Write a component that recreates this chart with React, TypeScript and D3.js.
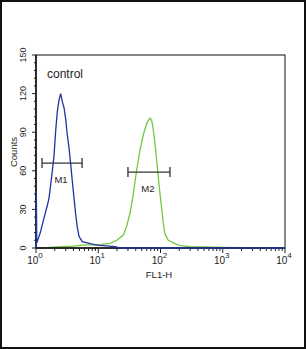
import React, { useEffect, useRef } from 'react';
import * as d3 from 'd3';

// FL1-H channel values and counts
const blueFL = [1.01, 1.012, 1.03, 1.05, 1.19, 1.34, 1.52, 1.62, 1.72, 1.83, 1.95, 2.07, 2.2, 2.34, 2.49, 2.64, 2.82, 3.0, 3.18, 3.39, 3.61, 3.83, 4.08, 4.34, 4.61, 4.91, 5.54, 6.67, 8.02, 10.7, 15, 18.6, 22, 100, 10000];
const blueCounts = [0, 44, 4, 5, 13, 23, 33, 39, 49, 60, 72, 91, 106, 115, 120, 114, 109, 100, 88, 78, 65, 52, 39, 26, 16, 9, 5, 4, 3, 2, 1.5, 1, 0, 0, 0];

const greenFL = [1, 1.5, 2.5, 4, 6, 8, 10, 12, 15.4, 19.8, 25.3, 28.6, 32.4, 36.6, 41.5, 46.9, 52.9, 60, 63.6, 67.8, 72.3, 76.6, 81.6, 86.9, 92.2, 98.2, 105, 111, 118, 133, 161, 193, 250, 300, 500, 1000, 2000, 10000];
const greenCounts = [0, 0.3, 1, 1.5, 2.5, 2.5, 2, 3, 3.6, 6, 10, 17, 27, 42, 61, 76, 88, 97, 99, 101, 99, 92, 81, 68, 55, 42, 30, 19, 11, 6, 4, 2.3, 1.5, 1, 0.8, 0.5, 0.3, 0];

const yTicks = [0, 30, 60, 90, 120, 150];
const xDecades = [0, 1, 2, 3, 4];

// marker gates: [from, to, level, label]
const markers: [number, number, number, string][] = [
  [1.25, 5.5, 66, 'M1'],
  [30, 142, 59, 'M2'],
];

const W = 306;
const H = 349;
const font = 'Liberation Sans, Arial, sans-serif';

export default function App() {
  const ref = useRef<SVGSVGElement | null>(null);

  useEffect(() => {
    const svg = d3.select(ref.current);
    svg.selectAll('*').remove();

    const x = d3.scaleLog().domain([1, 10000]).range([36, 285]);
    const y = d3.scaleLinear().domain([0, 150]).range([248, 55]);

    // outer border
    svg.append('rect')
      .attr('x', 1).attr('y', 1).attr('width', W - 2).attr('height', H - 2)
      .attr('fill', 'white').attr('stroke', '#111').attr('stroke-width', 2);

    // y ticks (major every 30, minor every 6)
    d3.range(0, 151, 6).forEach((v) => {
      const major = v % 30 === 0;
      svg.append('line')
        .attr('x1', 36).attr('x2', major ? 32 : 34)
        .attr('y1', y(v)).attr('y2', y(v))
        .attr('stroke', '#222').attr('stroke-width', 1);
    });
    yTicks.forEach((v) => {
      svg.append('text')
        .attr('transform', `translate(26,${y(v)}) rotate(-90)`)
        .attr('text-anchor', 'middle')
        .attr('font-family', font).attr('font-size', 9).attr('fill', '#222')
        .text(v);
    });

    // x ticks, log minor
    xDecades.forEach((d) => {
      if (d < 4) {
        d3.range(2, 10).forEach((m) => {
          const px = x(m * Math.pow(10, d));
          svg.append('line')
            .attr('x1', px).attr('x2', px).attr('y1', 248).attr('y2', 251)
            .attr('stroke', '#222').attr('stroke-width', 1);
        });
      }
      const px = x(Math.pow(10, d));
      svg.append('line')
        .attr('x1', px).attr('x2', px).attr('y1', 248).attr('y2', 253)
        .attr('stroke', '#222').attr('stroke-width', 1);
      const t = svg.append('text')
        .attr('x', px - 1).attr('y', 264)
        .attr('text-anchor', 'middle')
        .attr('font-family', font).attr('font-size', 10).attr('fill', '#222');
      t.append('tspan').text('10');
      t.append('tspan').attr('dy', -6).attr('font-size', 8).text(d);
    });

    // axis titles
    svg.append('text')
      .attr('transform', 'translate(17,152) rotate(-90)')
      .attr('text-anchor', 'middle')
      .attr('font-family', font).attr('font-size', 9.5).attr('fill', '#222')
      .text('Counts');
    svg.append('text')
      .attr('x', 159).attr('y', 278)
      .attr('text-anchor', 'middle')
      .attr('font-family', font).attr('font-size', 9.5).attr('fill', '#222')
      .text('FL1-H');

    const line = d3.line<[number, number]>()
      .x((d) => x(d[0]))
      .y((d) => y(d[1]));

    svg.append('path')
      .datum(greenFL.map((v, i) => [v, greenCounts[i]] as [number, number]))
      .attr('d', line)
      .attr('fill', 'none').attr('stroke', '#72c83e').attr('stroke-width', 1.3);

    // frame
    svg.append('rect')
      .attr('x', 36).attr('y', 55).attr('width', 249).attr('height', 193)
      .attr('fill', 'none').attr('stroke', '#111').attr('stroke-width', 1);
    svg.append('line')
      .attr('x1', 36).attr('x2', 285).attr('y1', 248).attr('y2', 248)
      .attr('stroke', '#111').attr('stroke-width', 1.5);
    svg.append('line')
      .attr('x1', 36).attr('x2', 36).attr('y1', 55).attr('y2', 248)
      .attr('stroke', '#111').attr('stroke-width', 1.5);

    svg.append('path')
      .datum(blueFL.map((v, i) => [v, blueCounts[i]] as [number, number]))
      .attr('d', line)
      .attr('fill', 'none').attr('stroke', '#2035a0').attr('stroke-width', 1.3);

    // marker gates
    markers.forEach(([a, b, lvl, label]) => {
      const g = svg.append('g').attr('stroke', '#333').attr('stroke-width', 1.3);
      g.append('line').attr('x1', x(a)).attr('x2', x(b)).attr('y1', y(lvl)).attr('y2', y(lvl));
      g.append('line').attr('x1', x(a)).attr('x2', x(a)).attr('y1', y(lvl) - 5).attr('y2', y(lvl) + 5);
      g.append('line').attr('x1', x(b)).attr('x2', x(b)).attr('y1', y(lvl) - 5).attr('y2', y(lvl) + 5);
      svg.append('text')
        .attr('x', (x(a) + x(b)) / 2 - 1).attr('y', y(lvl) + 20)
        .attr('text-anchor', 'middle')
        .attr('font-family', font).attr('font-size', 9.5).attr('fill', '#222')
        .text(label);
    });

    svg.append('text')
      .attr('x', 47).attr('y', 78)
      .attr('font-family', font).attr('font-size', 12).attr('fill', '#222')
      .text('control');
  }, []);

  return (
    <svg ref={ref} width={W} height={H} style={{ position: 'absolute', left: 0, top: 0 }} />
  );
}
